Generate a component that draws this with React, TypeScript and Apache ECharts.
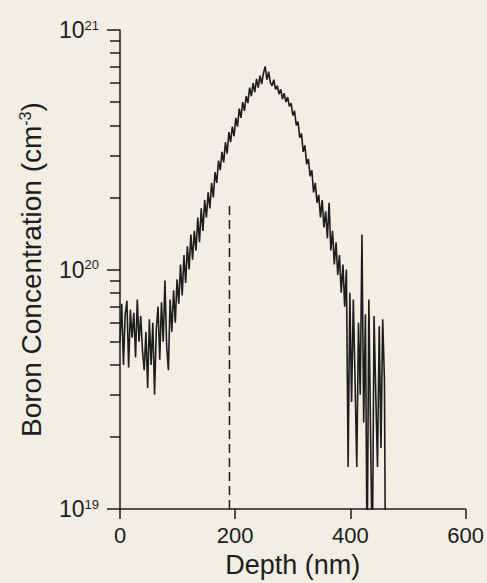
import React, { useEffect, useRef } from "react";
import * as echarts from "echarts";

// Depth (nm)
const depth = [
  0, 3, 6, 9, 12, 15, 18, 21, 24, 27, 30, 33, 36, 39, 42, 45, 48, 51, 54, 57,
  60, 63, 66, 69, 72, 75, 78, 81, 84, 87, 90, 93, 96, 99, 102, 105, 108, 111, 114, 117,
  120, 123, 126, 129, 132, 135, 138, 141, 144, 147, 150, 153, 156, 159, 162, 165, 168, 171, 174, 177,
  180, 183, 186, 189, 192, 195, 198, 201, 204, 207, 210, 213, 216, 219, 222, 225, 228, 231, 234, 237,
  240, 243, 246, 249, 252, 255, 258, 261, 264, 267, 270, 273, 276, 279, 282, 285, 288, 291, 294, 297,
  300, 303, 306, 309, 312, 315, 318, 321, 324, 327, 330, 333, 336, 339, 342, 345, 348, 351, 354, 357,
  360, 363, 366, 369, 372, 375, 378, 381, 384, 387, 390, 393, 396, 399, 402, 405, 408, 411, 414, 417,
  420, 423, 426, 429, 432, 435, 438, 441, 444, 447, 450, 453, 456, 459, 461,
];

// Boron concentration, in units of 1e19 cm^-3
const concE19 = [
  5.0, 7.2, 4.0, 6.5, 7.4, 3.9, 6.8, 5.2, 6.6, 4.3, 7.5, 5.0, 6.4, 4.6, 3.8, 5.5, 3.2, 6.2, 4.0, 6.0,
  3.0, 5.6, 7.0, 4.2, 7.3, 5.0, 9.0, 4.8, 3.8, 7.5, 5.5, 8.2, 6.0, 9.1, 7.2, 10.5, 7.8, 11.5, 8.8, 12.5,
  10.0, 14.0, 11.0, 14.5, 12.0, 16.5, 13.0, 18.0, 14.5, 19.5, 16.5, 21.0, 18.0, 23.0, 20.0, 25.5, 23.0, 28.5, 26.0, 31.0,
  28.0, 34.0, 30.5, 37.5, 34.0, 39.5, 36.0, 43.0, 39.5, 47.0, 43.0, 50.0, 46.0, 53.0, 49.5, 57.5, 53.0, 60.0, 55.0, 62.5,
  57.5, 64.5, 59.5, 66.0, 70.5, 62.0, 67.0, 60.5, 58.5, 62.0, 56.5, 58.5, 54.0, 56.5, 51.5, 54.5, 50.0, 52.5, 48.0, 49.5,
  44.0, 46.0, 40.0, 41.5, 35.5, 37.0, 31.0, 33.0, 27.5, 29.0, 24.5, 26.0, 21.0, 23.0, 19.0, 20.5, 16.5, 19.5, 15.0, 17.5,
  13.5, 19.0, 12.0, 14.5, 10.5, 13.0, 9.5, 11.5, 8.0, 10.5, 7.0, 10.0, 1.5, 8.0, 2.8, 7.5, 3.5, 1.5, 6.0, 3.0,
  14.0, 2.3, 6.5, 0.6, 7.5, 2.0, 0.6, 6.4, 3.0, 1.5, 5.8, 1.8, 6.2, 3.5, 0.5,
];
const UNIT = 1e19;

// Dashed marker line
const markerDepth = 190;
const markerTop = 1.9e20;

// Axis ranges / ticks
const xTicks = [0, 200, 400, 600];
const yMin = 1e19;
const yMax = 1e21;
const minorDecades = [19, 20];
const minorMultiples = [2, 3, 4, 5, 6, 7, 8, 9];

const FONT = '"Liberation Sans", Arial, Helvetica, sans-serif';
const INK = "#1d1d1d";
const BG = "#f3eee4";

export default function App() {
  const ref = useRef<HTMLDivElement>(null);

  useEffect(() => {
    document.body.style.margin = "0";
    document.body.style.background = BG;
    if (!ref.current) return;
    const chart = echarts.init(ref.current, undefined, { renderer: "svg" });

    const lineData = depth.map((d, i) => [d, concE19[i] * UNIT]);
    const minorValues = minorDecades.flatMap((d) =>
      minorMultiples.map((m) => d + Math.log10(m))
    );

    chart.setOption({
      animation: false,
      backgroundColor: BG,
      grid: { left: 120, right: 21, top: 30, bottom: 73 },
      xAxis: {
        type: "value",
        min: xTicks[0],
        max: xTicks[xTicks.length - 1],
        interval: 200,
        axisLine: { show: true, lineStyle: { color: INK, width: 1.5 } },
        axisTick: { show: true, length: 10, lineStyle: { color: INK, width: 1.5 } },
        axisLabel: { fontFamily: FONT, fontSize: 22, color: INK, margin: 15 },
        splitLine: { show: false },
        name: "Depth (nm)",
        nameLocation: "middle",
        nameGap: 41,
        nameTextStyle: { fontFamily: FONT, fontSize: 27, color: INK },
      },
      yAxis: [
        {
          type: "log",
          logBase: 10,
          min: yMin,
          max: yMax,
          position: "left",
          axisLine: { show: true, lineStyle: { color: INK, width: 1.5 } },
          axisTick: { show: true, length: 13, lineStyle: { color: INK, width: 1.5 } },
          axisLabel: {
            margin: 21,
            formatter: (v: number) => `{b|10}{s|${Math.round(Math.log10(v))}}`,
            rich: {
              b: { fontFamily: FONT, fontSize: 23, color: INK, lineHeight: 23, padding: [12, 0, 0, 0], verticalAlign: "bottom" },
              s: { fontFamily: FONT, fontSize: 13, color: INK, lineHeight: 14, verticalAlign: "top" },
            },
          },
          splitLine: { show: false },
          name: "{a|Boron Concentration (cm}{s|-3}{a|)}",
          nameLocation: "middle",
          nameGap: 75,
          nameRotate: 90,
          nameTextStyle: {
            fontFamily: FONT,
            fontSize: 28,
            color: INK,
            rich: {
              a: { fontFamily: FONT, fontSize: 28, color: INK, lineHeight: 28, padding: [7, 0, 0, 0], verticalAlign: "bottom" },
              s: { fontFamily: FONT, fontSize: 16, color: INK, lineHeight: 16, verticalAlign: "top" },
            },
          },
        },
        {
          type: "value",
          min: 19,
          max: 21,
          position: "left",
          offset: 0,
          axisLine: { show: false },
          axisLabel: { show: false },
          splitLine: { show: false },
          axisTick: {
            show: true,
            length: 10,
            customValues: minorValues,
            lineStyle: { color: INK, width: 1.5 },
          },
        },
      ],
      series: [
        {
          type: "line",
          yAxisIndex: 0,
          data: lineData,
          showSymbol: false,
          symbol: "none",
          clip: true,
          lineStyle: { color: INK, width: 1.6 },
        },
        {
          type: "line",
          yAxisIndex: 0,
          data: [
            [markerDepth, yMin],
            [markerDepth, markerTop],
          ],
          symbol: "none",
          lineStyle: { color: INK, width: 1.5, type: [9, 5] },
        },
      ],
    });

    return () => chart.dispose();
  }, []);

  return (
    <div
      ref={ref}
      style={{ position: "absolute", left: 0, top: 0, width: 487, height: 583, background: BG }}
    />
  );
}
